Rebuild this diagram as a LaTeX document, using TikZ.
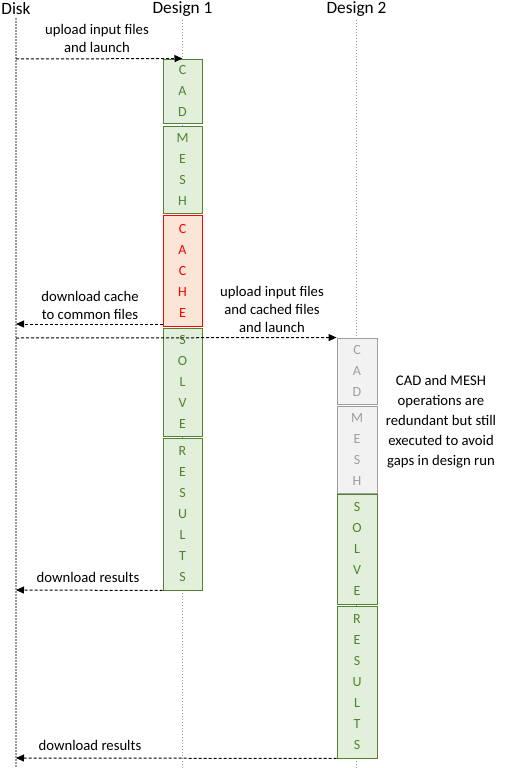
\documentclass[tikz,border=0pt]{standalone}
\usepackage{fontspec}
\setmainfont{Carlito}
\usetikzlibrary{arrows.meta,positioning,calc}
\definecolor{stepgreen}{HTML}{548235}
\definecolor{stepgreenfill}{HTML}{E2EFDA}
\definecolor{cachered}{HTML}{FF0000}
\definecolor{cachefill}{HTML}{FBE5D6}
\definecolor{skipgray}{HTML}{9E9E9E}
\definecolor{skipfill}{HTML}{F2F2F2}
\definecolor{lanegray}{HTML}{9A9A9A}
\tikzstyle{head} = [inner sep=0pt, font=\fontsize{17.3}{20}\selectfont]
\tikzstyle{lifeline} = [draw=lanegray, line width=1.4pt, dash pattern=on 1.3pt off 1.7pt]
\tikzstyle{msg} = [dash pattern=on 3pt off 2pt, line width=1pt, -{Triangle[length=8pt,width=7pt]}]
\tikzstyle{lbl} = [inner sep=0pt, align=center, font=\fontsize{14.7}{18}\selectfont]
\tikzstyle{stepbox} = [draw=stepgreen, fill=stepgreenfill, text=stepgreen, line width=0.9pt, minimum width=39pt, inner sep=0pt, align=center, font=\fontsize{14}{21}\selectfont]
\tikzstyle{cachebox} = [stepbox, draw=cachered, fill=cachefill, text=cachered]
\tikzstyle{skipbox} = [stepbox, draw=skipgray, fill=skipfill, text=skipgray]

\begin{document}
\begin{tikzpicture}[x=1pt,y=-1pt]
\useasboundingbox (0,0) rectangle (504,768);
% lanes
\node (disk) at (16,9) [head] {Disk};
\node (des1) at (182.5,9) [head] {Design 1};
\node (des2) at (356.5,9) [head] {Design 2};
\coordinate (diskend) at (16,768);
\coordinate (des1end) at (182.5,768);
\coordinate (des2end) at (356.5,768);
\draw [lifeline] ([yshift=-3pt]disk.south) -- (diskend);
\draw [lifeline] ([yshift=-3pt]des1.south) -- (des1end);
\draw [lifeline] ([yshift=-3pt]des2.south) -- (des2end);

% design 1 steps
\node (cad1) at (182.5,91) [stepbox, minimum height=64pt] {C\\A\\D};
\node (mesh1) at (182.5,169.5) [stepbox, minimum height=87pt] {M\\E\\S\\H};
\node (cache1) at (182.5,270.5) [cachebox, minimum height=111pt] {C\\A\\C\\H\\E};
\node (solve1) at (182.5,382) [stepbox, minimum height=108pt] {S\\O\\L\\V\\E};
\node (res1) at (182.5,514) [stepbox, minimum height=152pt] {R\\E\\S\\U\\L\\T\\S};

% design 2 steps
\node (cad2) at (357,371) [skipbox, minimum width=40pt, minimum height=66pt] {C\\A\\D};
\node (mesh2) at (357,449.5) [skipbox, minimum width=40pt, minimum height=87pt] {M\\E\\S\\H};
\node (solve2) at (357,549) [stepbox, minimum width=40pt, minimum height=110pt] {S\\O\\L\\V\\E};
\node (res2) at (357,682) [stepbox, minimum width=40pt, minimum height=152pt] {R\\E\\S\\U\\L\\T\\S};

% messages
\coordinate (up1) at (16,59);
\coordinate (dc) at (16,324);
\coordinate (up2) at (16,338);
\coordinate (dr1) at (16,590);
\coordinate (dr2) at (16,758);
\draw [msg] (up1) -- (cad1.north);
\draw [msg] (cache1.south west |- dc) -- (dc);
\draw [msg] (up2) -- (cad2.north west);
\draw [msg] (res1.south west) -- (dr1);
\draw [msg] (res2.south west) -- (dr2);

% labels
\node (l1) at (97,38) [lbl] {upload input files\\and launch};
\node (l2) at (90,305) [lbl] {download cache\\to common files};
\node (l3) at (272,309) [lbl] {upload input files\\and cached files\\and launch};
\node (l4) at (88,577) [lbl] {download results};
\node (l5) at (90,745) [lbl] {download results};
\node (note) at (441,422) [lbl, font=\fontsize{14.7}{20}\selectfont] {CAD and MESH\\operations are\\redundant but still\\executed to avoid\\gaps in design run};
\end{tikzpicture}
\end{document}
